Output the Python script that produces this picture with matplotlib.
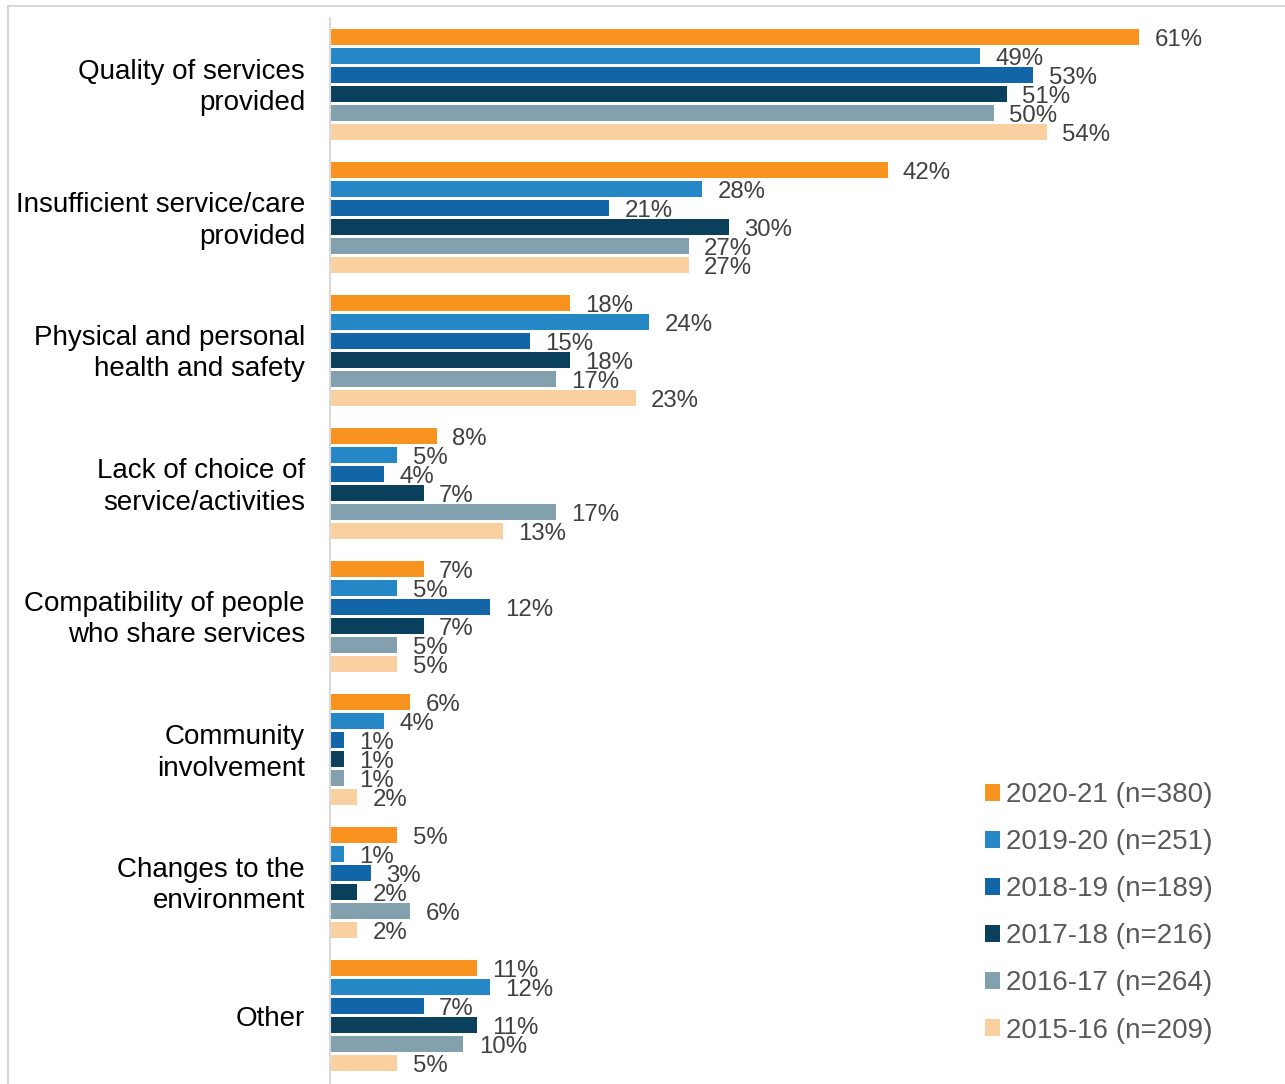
import matplotlib
matplotlib.use("Agg")
import matplotlib.pyplot as plt
from matplotlib.patches import Rectangle, Patch
import matplotlib.transforms as mtransforms
import numpy as np

plt.rcParams['font.family'] = ['Liberation Sans', 'DejaVu Sans']

categories = [
    "Quality of services\nprovided",
    "Insufficient service/care\nprovided",
    "Physical and personal\nhealth and safety",
    "Lack of choice of\nservice/activities",
    "Compatibility of people\nwho share services",
    "Community\ninvolvement",
    "Changes to the\nenvironment",
    "Other",
]
series_labels = [
    "2020-21 (n=380)",
    "2019-20 (n=251)",
    "2018-19 (n=189)",
    "2017-18 (n=216)",
    "2016-17 (n=264)",
    "2015-16 (n=209)",
]
v_2020_21 = [61, 42, 18, 8, 7, 6, 5, 11]
v_2019_20 = [49, 28, 24, 5, 5, 4, 1, 12]
v_2018_19 = [53, 21, 15, 4, 12, 1, 3, 7]
v_2017_18 = [51, 30, 18, 7, 7, 1, 2, 11]
v_2016_17 = [50, 27, 17, 17, 5, 1, 6, 10]
v_2015_16 = [54, 27, 23, 13, 5, 2, 2, 5]
series_values = [v_2020_21, v_2019_20, v_2018_19, v_2017_18, v_2016_17, v_2015_16]
colors = ["#F7931E", "#2687C7", "#1266A8", "#0B405C", "#83A0AE", "#FAD0A0"]

W, H = 1285, 1084
fig = plt.figure(figsize=(W / 100, H / 100), dpi=100)
PT = 0.72  # points per pixel at 100 dpi

# outer frame (light grey border)
fig.patches.append(Rectangle((8 / W, -0.1), 1.2, (H - 6) / H + 0.1,
                             transform=fig.transFigure, fill=False,
                             edgecolor="#D9D9D9", linewidth=1.5, zorder=0))

left_px, top_px, bottom_px = 331, 18, 1082
xmax = 70
right_px = left_px + xmax * 13.25
ax = fig.add_axes([left_px / W, 1 - bottom_px / H,
                   (right_px - left_px) / W, (bottom_px - top_px) / H])

n_series = len(series_values)
pitch = 1 / 7
bar_h = 0.12
y = np.arange(len(categories))
for k, (vals, col, lab) in enumerate(zip(series_values, colors, series_labels)):
    pos = y + (k - (n_series - 1) / 2) * pitch
    ax.barh(pos, vals, height=bar_h, color=col, label=lab, zorder=2)
    for p, v in zip(pos, vals):
        ax.annotate(f"{v}%", (v, p), xytext=(11, -2), textcoords="offset points",
                    ha="left", va="center", fontsize=17.3, color="#404040")

ax.set_xlim(0, xmax)
ax.set_ylim(len(categories) - 0.5, -0.5)
ax.set_yticks([])
ax.set_xticks([])

# category labels, right-aligned left of the axis and centred on each group
trans = mtransforms.blended_transform_factory(ax.transAxes, ax.transData)
cap_px, line_px = 20.0, 32.0
for yi, cat in zip(y, categories):
    n_lines = cat.count("\n") + 1
    dy = cap_px / 2 + (n_lines - 1) * line_px / 2
    ax.annotate(cat, (0, yi), xycoords=trans, xytext=(-26 * PT, -dy * PT),
                textcoords="offset points", ha="right", va="baseline",
                multialignment="right", fontsize=20, color="black",
                linespacing=1.29, annotation_clip=False)

for s in ["top", "right", "bottom"]:
    ax.spines[s].set_visible(False)
ax.spines["left"].set_color("#D9D9D9")
ax.spines["left"].set_linewidth(1.5)
ax.spines["left"].set_bounds(len(categories) + 0.5, -0.5)
ax.spines["left"].set_position(("outward", 0.7))

handles = [Patch(facecolor=c, edgecolor="none") for c in colors]
leg = fig.legend(handles, series_labels, loc="upper left",
                 bbox_to_anchor=(985 / W, 1 - 782 / H), frameon=False,
                 fontsize=20, handlelength=0.55, handleheight=0.55,
                 handletextpad=0.2, labelspacing=0.76, borderpad=0,
                 borderaxespad=0)
for t in leg.get_texts():
    t.set_color("#595959")

fig.savefig("out.png", dpi=100)
